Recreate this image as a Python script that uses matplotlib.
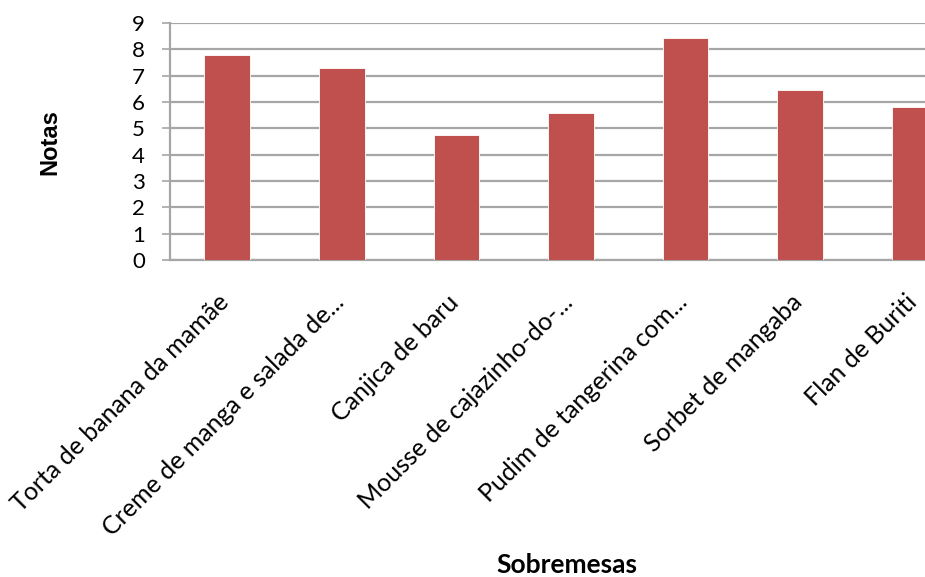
import matplotlib
matplotlib.use('Agg')
from matplotlib import pyplot as plt
from matplotlib.transforms import ScaledTranslation

# notas das sobremesas avaliadas
sobremesas = ['Torta de banana da mamãe',
              'Creme de manga e salada de...',
              'Canjica de baru',
              'Mousse de cajazinho-do-...',
              'Pudim de tangerina com...',
              'Sorbet de mangaba',
              'Flan de Buriti']
notas = [7.8, 7.3, 4.75, 5.6, 8.45, 6.45, 5.8]
yTicks = list(range(0, 10))

barColor = '#C0504D'
gridColor = '#A6A6A6'

plt.rcParams['font.family'] = ['Lato', 'DejaVu Sans']

figure = plt.figure(figsize=(9.25, 5.77), dpi=100)
# plot area runs past the right border, the last bar is cut
axis = figure.add_axes([0.1838, 0.5494, 0.867, 0.4107])

positions = list(range(len(sobremesas)))
axis.bar(positions, notas, width=0.4, color=barColor, edgecolor='white',
         linewidth=0.6, zorder=3)

axis.set_xlim(-0.5, len(sobremesas) - 0.5)
axis.set_ylim(0, 9)
axis.set_yticks(yTicks)
axis.set_yticklabels([str(t) for t in yTicks], fontsize=16)
axis.yaxis.grid(True, color=gridColor, linewidth=1.6, zorder=0)
axis.set_axisbelow(True)

axis.set_xticks(positions)
axis.set_xticklabels(sobremesas, rotation=45, ha='right', va='top',
                     rotation_mode='anchor', fontsize=18)
axis.tick_params(axis='x', length=0, pad=22)
axis.tick_params(axis='y', length=6, width=1.2, color=gridColor, pad=12)

# nudge the slanted labels a bit to the left of the category centre
shiftLeft = ScaledTranslation(-0.1, 0, figure.dpi_scale_trans)
for label in axis.get_xticklabels():
    label.set_transform(label.get_transform() + shiftLeft)

for side in ('top', 'right'):
    axis.spines[side].set_visible(False)
axis.spines['left'].set_color(gridColor)
axis.spines['left'].set_linewidth(1.6)
axis.spines['bottom'].set_color(gridColor)
axis.spines['bottom'].set_linewidth(1.6)

figure.text(50 / 925, 1 - 142 / 577, 'Notas', rotation=90, ha='center',
            va='center', fontsize=17, fontweight='bold',
            family=['Liberation Sans', 'DejaVu Sans'])
figure.text(567 / 925, 1 - 573 / 577, 'Sobremesas', ha='center',
            va='baseline', fontsize=19, fontweight='bold')

figure.savefig('out.png', dpi=100)
